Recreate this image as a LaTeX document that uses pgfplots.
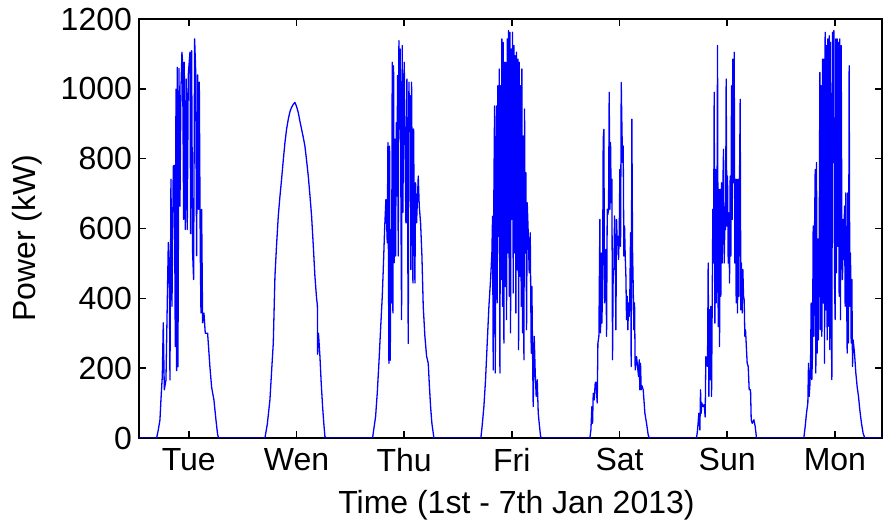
\documentclass[border=0pt]{standalone}
\usepackage{pgfplots}
\pgfplotsset{compat=1.18}
\usepackage{fontspec}
\setmainfont{Liberation Sans}
\begin{document}
\begin{tikzpicture}
\useasboundingbox (0,0) rectangle (441.5pt,264.5pt);
\begin{axis}[
  at={(69.5pt,45.5pt)}, anchor=south west,
  scale only axis, width=371.5pt, height=209.5pt,
  xmin=0.9, xmax=166.5, ymin=0, ymax=1200,
  xtick={12,36,60,84,108,132,156},
  xticklabels={Tue,Wen,Thu,Fri,Sat,Sun,Mon},
  ytick={0,200,400,600,800,1000,1200},
  tick align=inside, xtick pos=both, ytick pos=both,
  major tick length=3.7pt,
  every tick/.style={black, line width=0.8pt},
  axis line style={black, line width=1pt},
  /pgf/number format/assume math mode=true,
  /pgf/number format/set thousands separator={},
  tick label style={font=\fontsize{16}{19}\selectfont},
  xticklabel style={yshift=-1.5pt},
  label style={font=\fontsize{16}{19}\selectfont},
  xlabel={Time (1st - 7th Jan 2013)},
  ylabel={Power (kW)},
  xlabel style={at={(axis description cs:0.508,-0.160)}, anchor=center},
  ylabel style={at={(axis description cs:-0.1507,0.477)}, anchor=center},
]
\addplot[blue, line width=0.65pt, line join=round] coordinates {
(0.9,0) (4.83,0) (5.20,23) (5.57,52) (5.79,109) (6.09,176) (6.31,330) (6.54,138) (6.91,166) (7.43,560) (7.65,485) (7.80,166) (8.02,741) (8.25,377) (8.54,778) (8.77,781) (8.99,262) (9.14,999) (9.29,193) (9.43,1062) (9.58,204) (9.81,1058) (10.03,664) (10.25,999) (10.47,1105) (10.62,1076) (10.85,626) (10.99,1076) (11.22,597) (11.44,1028) (11.66,597) (11.88,1040) (12.26,1105) (12.41,585) (12.63,1109) (12.85,531) (13.07,454) (13.30,1143) (13.52,1058) (13.74,522) (13.97,1040) (14.19,655) (14.34,1019) (14.56,531) (14.71,358) (14.86,655) (15.08,330) (15.38,358) (15.67,300) (16.19,300) (16.71,203) (17.08,146) (17.60,109) (18.05,52) (18.42,10) (18.65,0)
(28.97,0) (29.5,40) (30.08,109) (30.45,190) (30.83,272) (31.2,463) (31.55,550) (31.94,635) (32.3,690) (32.68,741) (33.05,795) (33.43,846) (33.8,885) (34.17,913) (34.55,935) (34.91,947) (35.3,956) (35.65,961) (36.0,950) (36.4,932) (36.8,905) (37.14,884) (37.5,862) (37.88,836) (38.25,795) (38.63,750) (39.0,695) (39.37,635) (39.75,550) (40.11,463) (40.48,400) (40.66,380) (40.7,240) (40.9,300) (41.23,233) (41.5,160) (41.82,90) (42.1,40) (42.34,4) (42.71,0)
(52.96,0) (53.26,28) (53.63,61) (54.00,128) (54.37,214) (54.74,310) (55.12,406) (55.34,482) (55.64,597) (55.93,683) (56.23,559) (56.38,846) (56.60,214) (56.75,836) (56.90,223) (57.05,597) (57.20,387) (57.34,1076) (57.49,358) (57.64,1066) (57.79,502) (57.94,856) (58.09,521) (58.24,903) (58.38,693) (58.53,1038) (58.68,521) (58.83,1138) (58.98,885) (59.13,1114) (59.28,665) (59.42,339) (59.57,1124) (59.72,646) (59.87,942) (60.02,1076) (60.24,769) (60.39,616) (60.61,1028) (60.76,655) (60.91,271) (61.06,1019) (61.21,903) (61.36,980) (61.50,482) (61.65,1019) (61.80,712) (61.95,444) (62.10,885) (62.25,626) (62.40,444) (62.54,731) (62.77,616) (63.14,750) (63.36,665) (63.66,616) (63.96,521) (64.25,377) (64.62,291) (65.00,234) (65.37,214) (65.59,157) (65.89,90) (66.18,42) (66.63,0)
(77.10,0) (77.40,37) (77.77,90) (78.14,167) (78.51,272) (78.89,377) (79.26,454) (79.55,530) (79.70,635) (79.85,195) (80.00,712) (80.15,951) (80.30,186) (80.45,588) (80.59,951) (80.74,387) (80.89,1009) (81.04,578) (81.19,1057) (81.34,186) (81.49,1009) (81.63,454) (81.78,1143) (81.93,377) (82.08,1133) (82.23,272) (82.38,1076) (82.53,434) (82.67,1076) (82.82,339) (82.97,1143) (83.12,530) (83.27,1167) (83.42,406) (83.57,1162) (83.71,301) (83.86,1114) (84.01,626) (84.16,1162) (84.31,415) (84.46,1124) (84.61,530) (84.75,1095) (84.90,358) (85.05,1105) (85.20,482) (85.35,1085) (85.50,253) (85.65,1076) (85.79,463) (85.94,1009) (86.09,377) (86.24,1057) (86.39,301) (86.54,865) (86.69,224) (86.83,942) (86.98,530) (87.13,760) (87.28,310) (87.43,674) (87.65,588) (87.87,473) (88.10,588) (88.32,243) (88.47,434) (88.62,243) (88.76,90) (88.99,291) (89.21,186) (89.43,119) (89.66,167) (89.88,71) (90.10,42) (90.40,5) (90.62,0)
(101.39,0) (101.62,23) (101.84,90) (101.99,42) (102.14,128) (102.36,109) (102.58,157) (102.73,160) (103.03,100) (103.18,272) (103.40,291) (103.62,626) (103.77,301) (103.92,530) (104.07,329) (104.22,434) (104.36,856) (104.51,884) (104.66,387) (104.81,444) (104.96,540) (105.11,291) (105.26,655) (105.40,640) (105.55,655) (105.70,990) (105.85,655) (106.00,846) (106.15,674) (106.30,741) (106.44,224) (106.59,482) (106.74,482) (106.89,636) (107.04,521) (107.19,310) (107.34,626) (107.48,559) (107.63,578) (107.78,511) (107.93,578) (108.08,769) (108.23,549) (108.38,1018) (108.52,903) (108.67,789) (108.82,836) (108.97,521) (109.12,607) (109.27,521) (109.42,463) (109.56,339) (109.71,406) (109.86,310) (110.01,387) (110.16,348) (110.31,425) (110.46,588) (110.60,205) (110.75,913) (110.90,540) (111.05,434) (111.20,310) (111.35,387) (111.49,195) (111.79,233) (112.09,195) (112.24,176) (112.39,224) (112.53,138) (112.68,214) (112.83,138) (112.98,150) (113.28,138) (113.65,71) (114.02,42) (114.39,9) (114.62,0)
(125.16,0) (125.39,23) (125.68,71) (125.91,23) (126.05,138) (126.20,71) (126.35,100) (126.65,90) (126.87,95) (127.09,60) (127.24,233) (127.39,214) (127.61,205) (127.76,501) (127.91,119) (128.06,367) (128.21,167) (128.36,377) (128.51,119) (128.65,377) (128.80,655) (128.95,501) (129.10,990) (129.25,329) (129.40,769) (129.54,387) (129.69,501) (129.84,1124) (129.99,319) (130.14,712) (130.29,262) (130.44,712) (130.58,406) (130.73,731) (130.88,501) (131.03,722) (131.18,827) (131.33,501) (131.48,616) (131.63,597) (131.77,1028) (131.92,607) (132.07,750) (132.22,501) (132.37,645) (132.52,444) (132.66,750) (132.81,521) (132.96,1009) (133.11,626) (133.26,1085) (133.41,731) (133.56,1105) (133.70,501) (133.85,741) (134.00,387) (134.15,741) (134.30,358) (134.45,741) (134.60,406) (134.74,731) (134.89,970) (135.04,367) (135.19,501) (135.34,358) (135.49,482) (135.64,406) (135.78,396) (135.93,291) (136.08,310) (136.23,271) (136.45,214) (136.68,205) (136.90,138) (137.20,138) (137.35,52) (137.57,42) (137.94,52) (138.24,33) (138.53,0)
(149.08,0) (149.38,33) (149.67,71) (149.97,100) (150.12,214) (150.27,119) (150.42,150) (150.57,205) (150.71,387) (150.86,167) (151.01,243) (151.16,607) (151.31,291) (151.46,588) (151.61,769) (151.75,186) (151.90,789) (152.05,243) (152.20,570) (152.35,281) (152.50,530) (152.65,1047) (152.79,310) (152.94,1009) (153.09,291) (153.24,1085) (153.39,387) (153.54,1085) (153.69,214) (153.83,1162) (153.98,367) (154.13,1124) (154.28,281) (154.43,1143) (154.58,320) (154.73,1152) (154.87,253) (155.02,1133) (155.17,367) (155.32,167) (155.47,1162) (155.62,789) (155.77,1167) (155.91,454) (156.06,339) (156.21,1143) (156.36,473) (156.51,1143) (156.66,549) (156.81,1133) (156.95,406) (157.10,1143) (157.25,339) (157.40,1124) (157.55,607) (157.70,454) (157.85,626) (157.99,511) (158.14,664) (158.29,377) (158.44,702) (158.59,454) (158.74,243) (158.89,702) (159.03,272) (159.18,1066) (159.33,377) (159.48,530) (159.63,272) (159.78,454) (159.93,205) (160.07,281) (160.37,243) (160.67,186) (160.96,147) (161.26,119) (161.56,80) (161.93,42) (162.30,13) (162.67,0) (166.5,0)
};
\end{axis}
\end{tikzpicture}
\end{document}
